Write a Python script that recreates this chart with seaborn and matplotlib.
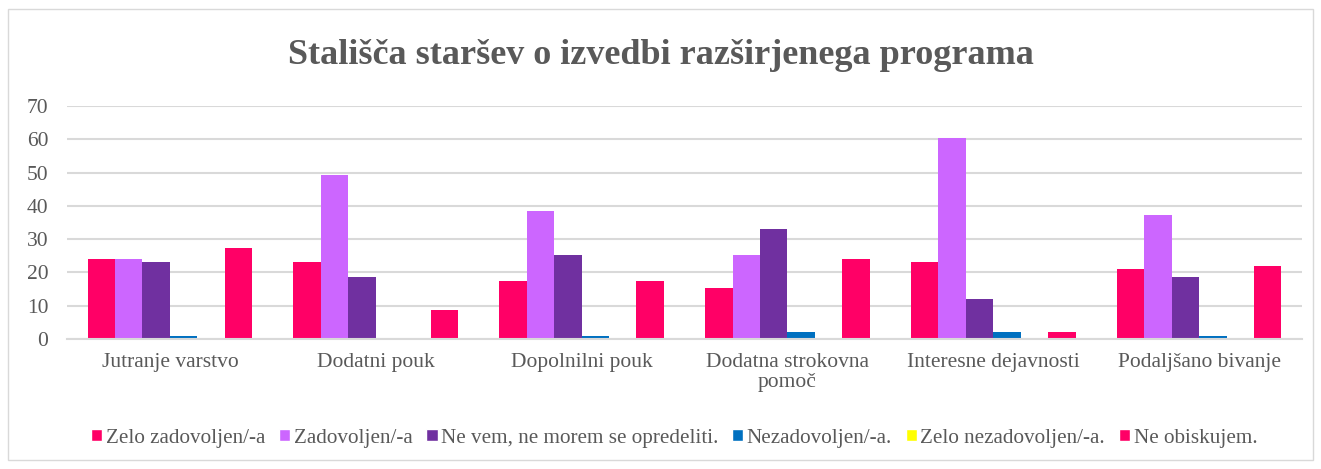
import numpy as np
import pandas as pd
import matplotlib
matplotlib.use("Agg")
import matplotlib.pyplot as plt
import seaborn as sns
from matplotlib.patches import Rectangle

categories = ["Jutranje varstvo", "Dodatni pouk", "Dopolnilni pouk",
              "Dodatna strokovna\npomoč", "Interesne dejavnosti", "Podaljšano bivanje"]
series = ["Zelo zadovoljen/-a", "Zadovoljen/-a", "Ne vem, ne morem se opredeliti.",
          "Nezadovoljen/-a.", "Zelo nezadovoljen/-a.", "Ne obiskujem."]
zelo_zadovoljen = [24.1, 23.0, 17.5, 15.3, 23.0, 20.9]
zadovoljen = [24.1, 49.4, 38.4, 25.2, 60.4, 37.3]
ne_vem = [23.0, 18.6, 25.2, 32.9, 11.9, 18.7]
nezadovoljen = [0.9, 0.0, 0.9, 2.2, 2.2, 0.9]
zelo_nezadovoljen = [0.0, 0.0, 0.0, 0.0, 0.0, 0.0]
ne_obiskujem = [27.4, 8.6, 17.5, 24.1, 2.2, 21.9]
colors = ["#FF0066", "#CC66FF", "#7030A0", "#0070C0", "#FFFF00", "#FF0066"]

values = [zelo_zadovoljen, zadovoljen, ne_vem, nezadovoljen, zelo_nezadovoljen, ne_obiskujem]
df = pd.DataFrame([
    {"kategorija": c, "odgovor": s, "delez": v[i]}
    for s, v in zip(series, values)
    for i, c in enumerate(categories)
])

sns.set_style("white")
plt.rcParams["font.family"] = ["Liberation Serif", "DejaVu Serif"]
text_col = "#595959"
grid_col = "#D9D9D9"

fig = plt.figure(figsize=(13.21, 4.69), dpi=100)
ax = fig.add_axes([67 / 1321, 1 - 339 / 469, (1302 - 67) / 1321, (339 - 106) / 469])

sns.barplot(data=df, x="kategorija", y="delez", hue="odgovor",
            order=categories, hue_order=series, palette=colors,
            width=0.8, saturation=1, linewidth=0, ax=ax, legend=False)

ax.set_ylim(0, 70)
ax.set_yticks(range(0, 71, 10))
ax.set_xlim(-0.5, len(categories) - 0.5)
ax.yaxis.grid(True, color=grid_col, linewidth=1.5)
ax.set_axisbelow(True)
for s in ["top", "right", "left"]:
    ax.spines[s].set_visible(False)
ax.spines["bottom"].set_color(grid_col)
ax.spines["bottom"].set_linewidth(1.5)
ax.tick_params(axis="both", length=0, labelsize=15.5, colors=text_col)
ax.tick_params(axis="x", pad=10)
ax.tick_params(axis="y", pad=13.5)
ax.set_xlabel("")
ax.set_ylabel("")
for lbl in ax.get_xticklabels():
    lbl.set_linespacing(1.05)

fig.text(0.5, 1 - 55 / 469, "Stališča staršev o izvedbi razširjenega programa",
         ha="center", va="center", fontsize=26, fontweight="bold", color=text_col)

handles = [Rectangle((0, 0), 1, 1, facecolor=c) for c in colors]
leg = fig.legend(handles, series, loc="center", bbox_to_anchor=(674 / 1321, 1 - 438 / 469),
                 ncol=6, frameon=False, fontsize=15.2, handlelength=0.55,
                 handleheight=0.55, handletextpad=0.15, columnspacing=0.65)
for t in leg.get_texts():
    t.set_color(text_col)

fig.patches.append(Rectangle((8 / 1321, 9 / 469), 1 - 16 / 1321, 1 - 18 / 469,
                             transform=fig.transFigure, fill=False,
                             edgecolor=grid_col, linewidth=1))

fig.savefig("out.png", dpi=100)
